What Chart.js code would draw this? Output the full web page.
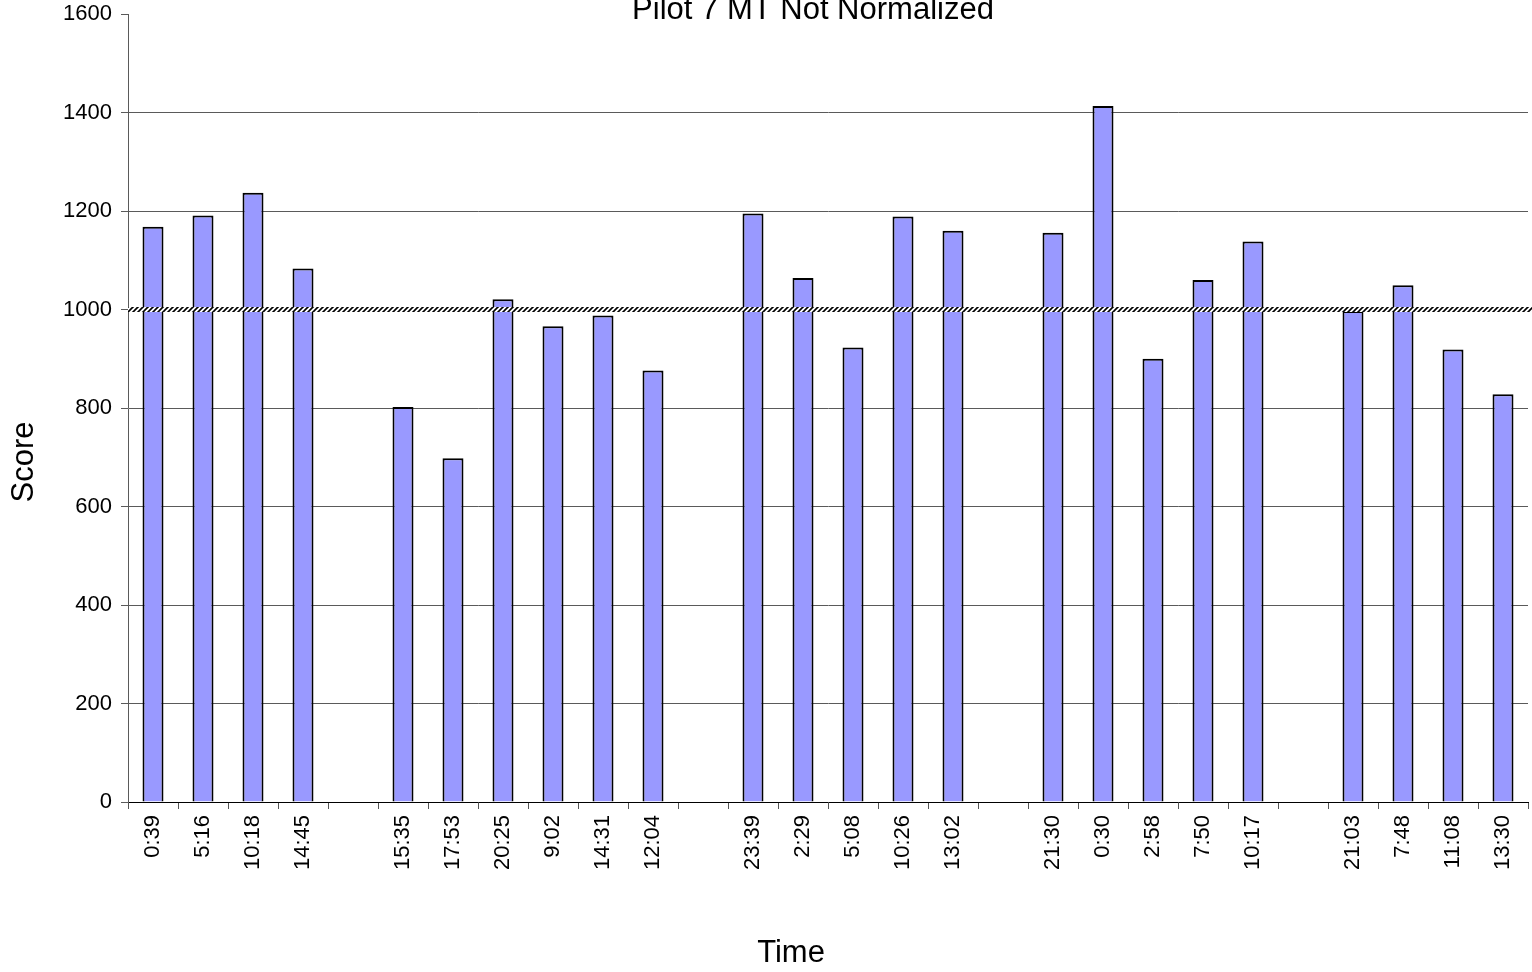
<!DOCTYPE html>
<html>
<head>
<meta charset="utf-8">
<title>Pilot 7 MT Not Normalized</title>
<script src="https://cdn.jsdelivr.net/npm/chart.js@4.4.1/dist/chart.umd.min.js"></script>
<style>
    body { margin: 0; background: #fff; }
    #wrap { width: 1532px; height: 972px; }
</style>
</head>
<body>
<div id="wrap"><canvas id="scoreChart"></canvas></div>
<script>
// empty labels are the gaps between test days
const timeLabels = ['0:39', '5:16', '10:18', '14:45', '',
    '15:35', '17:53', '20:25', '9:02', '14:31', '12:04', '',
    '23:39', '2:29', '5:08', '10:26', '13:02', '',
    '21:30', '0:30', '2:58', '7:50', '10:17', '',
    '21:03', '7:48', '11:08', '13:30'];
const scores = [1168, 1191, 1237, 1083, null,
    802, 698, 1021, 966, 988, 876, null,
    1195, 1064, 923, 1189, 1160, null,
    1156, 1413, 900, 1060, 1138, null,
    997, 1049, 919, 828];
const yTicks = [0, 200, 400, 600, 800, 1000, 1200, 1400, 1600];
const referenceScore = 1000;

const chartTitle = 'Pilot 7 MT Not Normalized';
const xTitle = 'Time';
const yTitle = 'Score';

const fontFamily = "'Liberation Sans', Arial, Helvetica, sans-serif";

function makeHatch(ctx) {
    const s = 5;
    const p = document.createElement('canvas');
    p.width = s;
    p.height = s;
    const pc = p.getContext('2d');
    pc.fillStyle = '#fff';
    pc.fillRect(0, 0, s, s);
    pc.strokeStyle = '#000';
    pc.lineWidth = 1.6;
    pc.beginPath();
    pc.moveTo(-1, s + 1);
    pc.lineTo(s + 1, -1);
    pc.moveTo(-1, 1);
    pc.lineTo(1, -1);
    pc.moveTo(s - 1, s + 1);
    pc.lineTo(s + 1, s - 1);
    pc.stroke();
    return ctx.createPattern(p, 'repeat');
}

const hatchLine = {
    id: 'hatchLine',
    afterDatasetsDraw(chart) {
        const { ctx, chartArea, scales } = chart;
        const y = Math.round(scales.y.getPixelForValue(referenceScore));
        ctx.save();
        ctx.fillStyle = makeHatch(ctx);
        ctx.fillRect(chartArea.left, y - 3, chart.width - chartArea.left, 5);
        ctx.restore();
    }
};

// titles sit where the original had them, not centred on the plot
const titles = {
    id: 'titles',
    afterDraw(chart) {
        const ctx = chart.ctx;
        ctx.save();
        ctx.fillStyle = '#000';
        ctx.font = `31px ${fontFamily}`;
        ctx.textAlign = 'center';
        ctx.textBaseline = 'alphabetic';
        ctx.fillText(chartTitle, 813, 19);
        ctx.fillText(xTitle, 791, 962);
        ctx.translate(33, 462);
        ctx.rotate(-Math.PI / 2);
        ctx.fillText(yTitle, 0, 0);
        ctx.restore();
    }
};

const ctx = document.getElementById('scoreChart').getContext('2d');

new Chart(ctx, {
    type: 'bar',
    data: {
        labels: timeLabels,
        datasets: [{
            data: scores,
            backgroundColor: '#9999FF',
            borderColor: '#000',
            borderWidth: 2,
            barPercentage: 0.42,
            categoryPercentage: 1,
        }],
    },
    options: {
        responsive: true,
        maintainAspectRatio: false,
        animation: false,
        layout: {
            padding: { top: 14, right: 4, left: 0, bottom: 0 },
        },
        plugins: {
            legend: { display: false },
            title: { display: false },
            tooltip: { enabled: false },
        },
        scales: {
            x: {
                offset: true,
                grid: {
                    offset: true,
                    drawOnChartArea: false,
                    tickLength: 7,
                    tickColor: '#555',
                },
                border: { color: '#000', width: 1 },
                ticks: {
                    autoSkip: false,
                    minRotation: 90,
                    maxRotation: 90,
                    padding: 6,
                    color: '#000',
                    font: { family: fontFamily, size: 22 },
                },
                afterFit(scale) {
                    scale.height = 170;
                    scale.paddingLeft = 0;
                    scale.paddingRight = 0;
                },
            },
            y: {
                min: 0,
                max: 1600,
                afterBuildTicks(scale) {
                    scale.ticks = yTicks.map(v => ({ value: v }));
                },
                grid: {
                    color: c => (c.tick && (c.tick.value === 1600 || c.tick.value === 0)) ? 'rgba(0,0,0,0)' : '#5a5a5a',
                    tickColor: '#5a5a5a',
                    tickLength: 7,
                },
                border: { color: '#5a5a5a', width: 1 },
                ticks: {
                    padding: 9,
                    color: '#000',
                    font: { family: fontFamily, size: 22 },
                    callback: v => String(v),
                },
                afterFit(scale) {
                    scale.width = 128;
                    scale.paddingTop = 0;
                    scale.paddingBottom = 0;
                },
            },
        },
    },
    plugins: [hatchLine, titles],
});
</script>
</body>
</html>
